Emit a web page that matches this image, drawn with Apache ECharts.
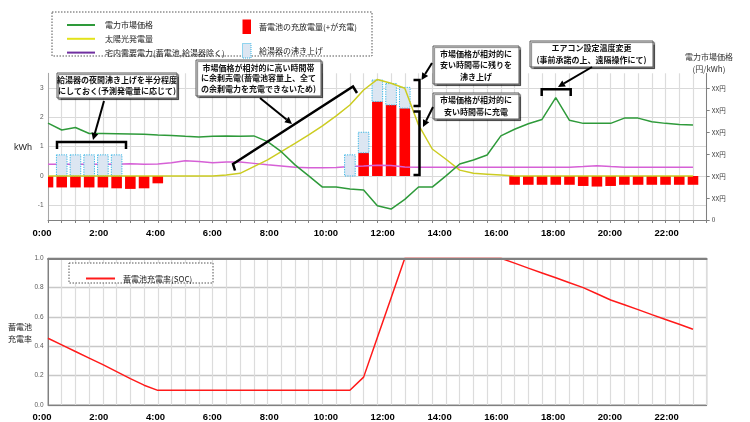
<!DOCTYPE html>
<html><head><meta charset="utf-8">
<script src="https://cdn.jsdelivr.net/npm/echarts@6/dist/echarts.min.js"></script>
<style>html,body{margin:0;padding:0;background:#fff}#c{width:750px;height:422px}</style>
</head><body><div id="c"></div>
<script>
// ---- data ----
const times = ['0:00','0:30','1:00','1:30','2:00','2:30','3:00','3:30','4:00','4:30','5:00','5:30',
  '6:00','6:30','7:00','7:30','8:00','8:30','9:00','9:30','10:00','10:30','11:00','11:30',
  '12:00','12:30','13:00','13:30','14:00','14:30','15:00','15:30','16:00','16:30','17:00','17:30',
  '18:00','18:30','19:00','19:30','20:00','20:30','21:00','21:30','22:00','22:30','23:00','23:30','24:00'];
const tickLabels = ['0:00','2:00','4:00','6:00','8:00','10:00','12:00','14:00','16:00','18:00','20:00','22:00'];
const priceLabel = 'XX円';
// market price (right axis units)
const price = [4.41,4.10,4.21,3.94,3.94,3.93,3.92,3.90,3.87,3.85,3.81,3.78,
  3.81,3.83,3.81,3.83,3.57,3.11,2.51,2.01,1.50,1.50,1.41,1.37,
  0.65,0.50,0.94,1.50,1.50,2.01,2.55,2.73,2.96,3.83,4.13,4.38,
  4.58,5.57,4.54,4.40,4.40,4.40,4.64,4.64,4.47,4.40,4.35,4.33];
// solar generation kWh
const solar = [0,0,0,0,0,0,0,0,0,0,0,0,
  0,0.03,0.09,0.32,0.55,0.83,1.11,1.40,1.71,2.05,2.42,2.93,
  3.29,3.16,2.99,1.74,0.92,0.57,0.20,0.09,0.06,0.03,0,0,
  0,0,0,0,0,0,0,0,0,0,0,0];
// household demand kWh
const demand = [0.40,0.40,0.40,0.40,0.40,0.40,0.42,0.40,0.41,0.45,0.52,0.49,
  0.45,0.48,0.48,0.43,0.38,0.34,0.30,0.28,0.28,0.29,0.32,0.34,
  0.37,0.36,0.31,0.30,0.30,0.30,0.30,0.30,0.30,0.30,0.30,0.30,
  0.30,0.30,0.30,0.32,0.35,0.32,0.30,0.30,0.30,0.30,0.30,0.30];
// battery charge(+)/discharge(-) kWh
const battery = [-0.39,-0.39,-0.39,-0.39,-0.39,-0.42,-0.44,-0.42,-0.25,null,null,null,
  null,null,null,null,null,null,null,null,null,null,null,0.79,
  2.54,2.42,2.31,null,null,null,null,null,null,null,-0.30,-0.30,
  -0.30,-0.30,-0.30,-0.34,-0.36,-0.34,-0.30,-0.30,-0.30,-0.30,-0.30,-0.30];
// water heater boiling kWh
const heater = [null,0.72,0.72,0.72,0.72,0.72,null,null,null,null,null,null,
  null,null,null,null,null,null,null,null,null,null,0.72,0.70,
  0.73,0.73,0.71,null,null,null,null,null,null,null,null,null,
  null,null,null,null,null,null,null,null,null,null,null,null];
// battery state of charge
const soc = [0.455,0.41,0.365,0.32,0.275,0.228,0.18,0.135,0.10,0.10,0.10,0.10,
  0.10,0.10,0.10,0.10,0.10,0.10,0.10,0.10,0.10,0.10,0.10,0.19,
  0.46,0.73,1.0,1.0,1.0,1.0,1.0,1.0,1.0,1.0,0.967,0.933,
  0.90,0.867,0.833,0.80,0.758,0.716,0.683,0.65,0.616,0.583,0.55,0.516];

// ---- chart ----
const JP = '"Noto Sans CJK JP", sans-serif';
const chart = echarts.init(document.getElementById('c'), null, {renderer:'canvas'});

function box(x,y,w,h,text,lh){
  return [
    {type:'rect', z:100, shape:{x:x,y:y,width:w,height:h},
     style:{fill:'#fff', stroke:'#595959', lineWidth:1, shadowColor:'rgba(0,0,0,0.5)', shadowOffsetX:1.5, shadowOffsetY:1.5, shadowBlur:1}},
    {type:'text', z:101, x:x+w/2, y:y+h/2,
     style:{text:text, fill:'#111', font:'bold 8px ' + JP, align:'center', verticalAlign:'middle', lineHeight:lh}}
  ];
}
function arrow(x1,y1,x2,y2){
  const a = Math.atan2(y2-y1, x2-x1), L = 7, W = 3.5;
  const bx = x2 - L*Math.cos(a), by = y2 - L*Math.sin(a);
  const px = -Math.sin(a), py = Math.cos(a);
  return [
    {type:'line', z:100, shape:{x1:x1,y1:y1,x2:bx,y2:by}, style:{stroke:'#000', lineWidth:2}},
    {type:'polygon', z:100, shape:{points:[[x2,y2],[bx+W*px,by+W*py],[bx-W*px,by-W*py]]}, style:{fill:'#000'}}
  ];
}
function bracket(pts){
  return {type:'polyline', z:100, shape:{points:pts}, style:{stroke:'#000', lineWidth:2.5, fill:null}};
}

const graphics = [].concat(
  [{type:'rect', z:50, shape:{x:52,y:12,width:320,height:44}, style:{fill:'#fff', stroke:'#555', lineWidth:1, lineDash:[1.5,1.5]}}],
  [{type:'rect', z:50, shape:{x:69,y:263,width:144,height:20}, style:{fill:'#fff', stroke:'#555', lineWidth:1, lineDash:[1.5,1.5]}}],
  box(57,73,120,25,'給湯器の夜間沸き上げを半分程度\nにしておく(予測発電量に応じて)',11.5),
  box(196,60,125,36,'市場価格が相対的に高い時間帯\nに余剰売電(蓄電池容量上、全て\nの余剰電力を充電できないため)',10.5),
  box(433,46,86,38,'市場価格が相対的に\n安い時間帯に残りを\n沸き上げ',11.5),
  box(433,93,86,26,'市場価格が相対的に\n安い時間帯に充電',11.5),
  box(530,41,123,26,'エアコン設定温度変更\n(事前承諾の上、遠隔操作にて)',11.5),
  arrow(104,101,93,140),
  arrow(260,98,292,124),
  arrow(432,63,421.5,80),
  arrow(433,107,423,127),
  arrow(592,67,558,87),
  [bracket([[57,149],[57,142],[126,142],[126,149]]),
   bracket([[235,170.5],[233,164],[353,86.5],[357,93]]),
   bracket([[413.5,80],[419.5,80],[419.5,106],[413.5,106]]),
   bracket([[413.5,111.5],[419.5,111.5],[419.5,175],[413.5,175]]),
   bracket([[541.7,96],[541.7,89.3],[570.7,89.3],[570.7,96]])],
  [{type:'text', x:23, y:148, style:{text:'kWh', fill:'#222', font:'9px "Liberation Sans", sans-serif', align:'center', verticalAlign:'middle'}},
   {type:'text', x:709, y:63, style:{text:'電力市場価格\n(円/kWh)', fill:'#333', font:'8px ' + JP, align:'center', verticalAlign:'middle', lineHeight:11.5}},
   {type:'text', x:20, y:333, style:{text:'蓄電池\n充電率', fill:'#222', font:'8px ' + JP, align:'center', verticalAlign:'middle', lineHeight:12}}]
);

// x label styling: each tick label gets its own horizontal nudge (as in the original layout)
const xRich = {};
tickLabels.forEach(function(t, k){
  const s = -6 + 1.9 * k;
  xRich['t' + k] = { fontSize: 9.5, fontWeight: 'bold', color: '#000', fontFamily: '"Liberation Sans", sans-serif',
    padding: s < 0 ? [0, -2*s, 0, 0] : [0, 0, 0, 2*s] };
});
const xLabel = {
  interval: function(i, v){ return tickLabels.indexOf(v) >= 0; },
  formatter: function(v){ return '{t' + tickLabels.indexOf(v) + '|' + v + '}'; },
  rich: xRich,
  margin: 8
};

// bars drawn through the axes, clipped to the plot rectangle
const BAR_W = 10.6;
function barRenderer(baseOf, style){
  return function(params, api){
    const i = api.value(0), v = api.value(1);
    if (v == null || isNaN(v)) return null;
    const b = baseOf(i);
    const p0 = api.coord([i, b]), p1 = api.coord([i, b + v]);
    const cs = params.coordSys;
    const r = echarts.graphic.clipRectByRect(
      { x: p0[0] - BAR_W/2, y: Math.min(p0[1], p1[1]), width: BAR_W, height: Math.abs(p1[1] - p0[1]) },
      { x: cs.x, y: cs.y, width: cs.width, height: cs.height });
    if (!r) return null;
    return { type: 'rect', shape: r, style: style };
  };
}
const batteryPairs = battery.map(function(v, i){ return [i, v == null ? NaN : v]; });
const heaterPairs = heater.map(function(v, i){ return [i, v == null ? NaN : v]; });

const option = {
  animation: false,
  backgroundColor: '#fff',
  textStyle: { fontFamily: JP },
  grid: [
    { left: 48, top: 73.3, width: 658.7, height: 146.7, outerBoundsMode: 'none' },
    { left: 48, top: 258.3, width: 658.7, height: 146.7, show: true, borderColor: '#808080', borderWidth: 1, outerBoundsMode: 'none' }
  ],
  xAxis: [
    { gridIndex: 0, type: 'category', data: times, boundaryGap: false,
      axisLine: { onZero: false, lineStyle: { color: '#808080', width: 1 } },
      axisTick: { show: true, interval: 0, length: 3, lineStyle: { color: '#808080' } },
      axisLabel: xLabel,
      splitLine: { show: true, interval: 0, lineStyle: { color: '#dcdcdc', width: 1.2 } } },
    { gridIndex: 1, type: 'category', data: times, boundaryGap: false,
      axisLine: { onZero: false, lineStyle: { color: '#808080', width: 1 } },
      axisTick: { show: false },
      axisLabel: Object.assign({}, xLabel, { margin: 7 }),
      splitLine: { show: true, interval: 0, lineStyle: { color: '#dcdcdc', width: 1.2 } } },
    { gridIndex: 1, type: 'category', data: times, boundaryGap: false, position: 'top', zlevel: 1, z: 10,
      axisLine: { show: true, onZero: false, lineStyle: { color: '#808080', width: 1.8 } },
      axisTick: { show: false }, axisLabel: { show: false }, splitLine: { show: false } }
  ],
  yAxis: [
    { gridIndex: 0, type: 'value', min: -1.5, max: 3.5, interval: 0.5,
      axisLine: { show: true, lineStyle: { color: '#a6a6a6' } },
      axisTick: { show: false },
      axisLabel: { fontSize: 6.5, color: '#595959', margin: 4.5, fontFamily: '"Liberation Sans", sans-serif',
        formatter: function(v){ const r = Math.round(v); return Math.abs(v - r) < 1e-9 ? String(r) : ''; } },
      splitLine: { show: true, showMinLine: true, showMaxLine: true, lineStyle: { color: ['transparent', '#d9d9d9'], width: 1.2 } } },
    { gridIndex: 0, type: 'value', position: 'right', min: 0, max: 6.68, interval: 1,
      axisLine: { show: true, lineStyle: { color: '#808080' } },
      axisTick: { show: true, length: 3, lineStyle: { color: '#808080' } },
      axisLabel: { fontSize: 6.5, color: '#404040', margin: 5, showMaxLabel: false,
        formatter: function(v){ return v === 0 ? '0' : priceLabel; } },
      splitLine: { show: false } },
    { gridIndex: 1, type: 'value', min: 0, max: 1, interval: 0.2,
      axisLine: { show: true, lineStyle: { color: '#808080' } },
      axisTick: { show: false },
      axisLabel: { fontSize: 6.5, color: '#595959', margin: 4.5, fontFamily: '"Liberation Sans", sans-serif',
        formatter: function(v){ return v.toFixed(1); } },
      splitLine: { show: true, lineStyle: { color: '#c8c8c8', width: 1.3 } } }
  ],
  legend: [
    { orient: 'vertical', left: 62, top: 15, itemWidth: 28, itemHeight: 2, itemGap: 3.8, selectedMode: false, z: 60,
      textStyle: { fontSize: 8, lineHeight: 10, color: '#222', fontFamily: JP, padding: [0,0,0,5] },
      data: [{ name: '電力市場価格', icon: 'rect' }, { name: '太陽光発電量', icon: 'rect', itemStyle: { color: '#e3e31a' } },
        { name: '宅内需要電力(蓄電池,給湯器除く)', icon: 'rect', itemStyle: { color: '#7030a0' } }] },
    { orient: 'vertical', left: 237, top: 14.5, itemWidth: 8.5, itemHeight: 14.5, itemGap: 9, selectedMode: false, z: 60,
      textStyle: { fontSize: 8, color: '#222', fontFamily: JP, padding: [0,0,0,3] },
      data: [{ name: '蓄電池の充放電量(+が充電)', icon: 'rect', itemStyle: { color: '#ff0000' } },
        { name: '給湯器の沸き上げ', icon: 'rect', itemStyle: { color: '#dce6f2', borderColor: '#33b5e5', borderWidth: 1, borderType: 'dotted' } }] },
    { orient: 'vertical', left: 81, top: 268.5, itemWidth: 29, itemHeight: 2, selectedMode: false, z: 60,
      textStyle: { fontSize: 8, lineHeight: 10, color: '#222', fontFamily: JP, padding: [0,0,0,3] },
      data: [{ name: '蓄電池充電率(SOC)', icon: 'rect' }] }
  ],
  series: [
    { name: '蓄電池の充放電量(+が充電)', type: 'custom', xAxisIndex: 0, yAxisIndex: 0, z: 2,
      data: batteryPairs, encode: { x: 0, y: 1 }, itemStyle: { color: '#ff0000' },
      renderItem: barRenderer(function(){ return 0; }, { fill: '#ff0000' }) },
    { name: '宅内需要電力(蓄電池,給湯器除く)', type: 'line', xAxisIndex: 0, yAxisIndex: 0, z: 3,
      data: demand, symbol: 'none', lineStyle: { color: '#d660d6', width: 1.5 }, itemStyle: { color: '#d660d6' } },
    { name: '給湯器の沸き上げ', type: 'custom', xAxisIndex: 0, yAxisIndex: 0, z: 4,
      data: heaterPairs, encode: { x: 0, y: 1 }, itemStyle: { color: '#dce6f2' },
      renderItem: barRenderer(function(i){ const r = battery[i]; return (r != null && r > 0) ? r : 0; },
        { fill: '#dce6f2', stroke: '#33b5e5', lineWidth: 1, lineDash: [1.2, 1.2] }) },
    { name: '太陽光発電量', type: 'line', xAxisIndex: 0, yAxisIndex: 0, z: 5,
      data: solar, symbol: 'none', lineStyle: { color: '#cccc22', width: 1.5 }, itemStyle: { color: '#cccc22' } },
    { name: '電力市場価格', type: 'line', xAxisIndex: 0, yAxisIndex: 1, z: 5,
      data: price, symbol: 'none', lineStyle: { color: '#2e9a3a', width: 1.5 }, itemStyle: { color: '#2e9a3a' } },
    { name: '蓄電池充電率(SOC)', type: 'line', xAxisIndex: 1, yAxisIndex: 2, z: 3,
      data: soc, symbol: 'none', lineStyle: { color: '#ff1a1a', width: 1.5 }, itemStyle: { color: '#ff1a1a' } }
  ],
  graphic: { elements: graphics }
};
chart.setOption(option);
</script></body></html>
